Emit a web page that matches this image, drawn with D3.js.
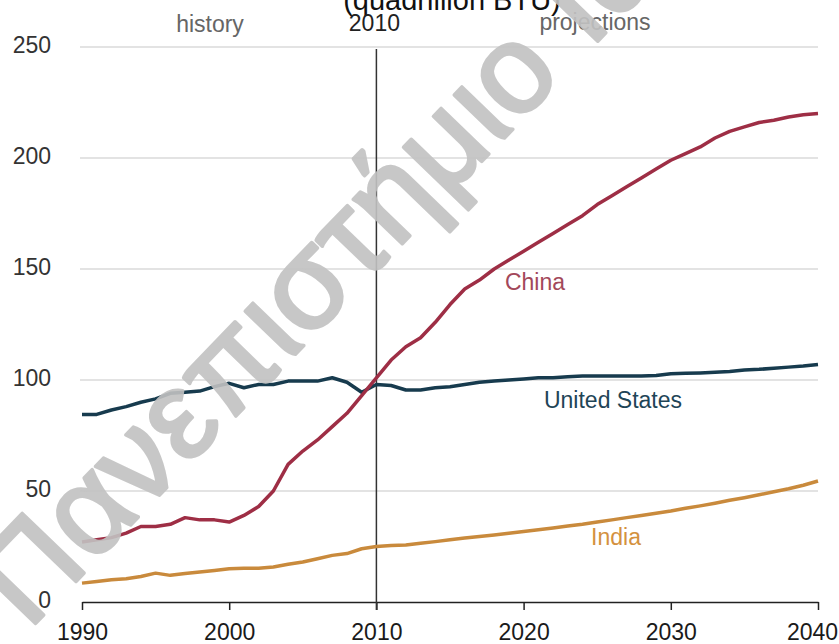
<!DOCTYPE html>
<html>
<head>
<meta charset="utf-8" />
<title>China, United States and India energy consumption</title>
<style>
  body { margin: 0; background: #fff; }
  svg { display: block; font-family: "Liberation Sans", Arial, sans-serif; }
</style>
</head>
<body>
<div id="chart"></div>
<script src="https://cdn.jsdelivr.net/npm/d3@7"></script>
<script>
// years 1990..2040
var years = d3.range(1990, 2041);

var china = [27, 28, 29, 31, 34, 34, 35, 38, 37, 37, 36, 39, 43, 50, 62, 68, 73, 79, 85, 93, 101,
  109, 115, 119, 126, 134, 141, 145, 150, 154, 158,
  162, 166, 170, 174, 179, 183, 187, 191, 195, 199,
  202, 205, 209, 212, 214, 216, 217, 218.5, 219.5, 220];

var unitedStates = [84.5, 84.5, 86.5, 88, 90, 91.5, 94, 94.5, 95, 97, 98.5, 96.5, 98, 98, 99.5, 99.5, 99.5, 101, 99, 94.5, 98,
  97.5, 95.5, 95.5, 96.5, 97, 98, 99, 99.5, 100, 100.5,
  101, 101, 101.5, 101.8, 101.8, 101.8, 101.8, 101.8, 102, 102.8,
  103, 103.2, 103.5, 103.8, 104.5, 104.8, 105.3, 105.8, 106.3, 107];

var india = [8.5, 9.2, 10, 10.5, 11.5, 13, 12, 12.8, 13.5, 14.2, 15, 15.2, 15.2, 15.8, 17, 18, 19.5, 21, 21.8, 24, 25,
  25.5, 25.7, 26.5, 27.2, 28, 28.8, 29.5, 30.2, 31, 31.8,
  32.5, 33.3, 34.2, 35, 36, 37, 38, 39, 40, 41,
  42.2, 43.3, 44.5, 45.8, 47, 48.3, 49.7, 51, 52.6, 54.5];

var xTicks = [1990, 2000, 2010, 2020, 2030, 2040];
var yTicks = [0, 50, 100, 150, 200, 250];

var width = 839, height = 644;

var x = d3.scaleLinear().domain([1990, 2040]).range([82, 818]);
var y = d3.scaleLinear().domain([0, 250]).range([602, 47]);

var svg = d3.select("#chart").append("svg")
    .attr("width", width)
    .attr("height", height);

// title, cut at the top edge
svg.append("text")
    .attr("x", 452).attr("y", 10)
    .attr("text-anchor", "middle")
    .style("font-size", "29px")
    .style("fill", "#111")
    .text("(quadrillion BTU)");

// grid
svg.append("g")
    .selectAll("line")
    .data(yTicks.filter(function (d) { return d > 0; }))
    .enter().append("line")
    .attr("x1", 80).attr("x2", 818)
    .attr("y1", function (d) { return y(d); })
    .attr("y2", function (d) { return y(d); })
    .attr("stroke", "#dadada")
    .attr("stroke-width", 1.5);

// y labels
svg.append("g")
    .selectAll("text")
    .data(yTicks)
    .enter().append("text")
    .attr("x", 51)
    .attr("y", function (d) { return y(d) - 2; })
    .attr("dy", "0.35em")
    .attr("text-anchor", "end")
    .style("font-size", "23px")
    .style("fill", "#333")
    .text(function (d) { return d; });

// x axis
var xAxis = d3.axisBottom(x)
    .tickValues(xTicks)
    .tickFormat(d3.format("d"))
    .tickSize(8)
    .tickSizeOuter(0);

var gx = svg.append("g")
    .attr("transform", "translate(0," + y(0) + ")")
    .call(xAxis);
gx.select(".domain").attr("stroke", "#222").attr("stroke-width", 1.5);
gx.selectAll(".tick line").attr("stroke", "#222").attr("stroke-width", 1.5);
gx.selectAll(".tick text")
    .attr("y", 22)
    .attr("x", function (d) { return d === 2040 ? -6 : 0; })
    .style("font-size", "23px")
    .style("font-family", "\"Liberation Sans\", Arial, sans-serif")
    .style("fill", "#1a1a1a");

// 2010 divider
svg.append("line")
    .attr("x1", x(2010)).attr("x2", x(2010))
    .attr("y1", 49).attr("y2", 610)
    .attr("stroke", "#333")
    .attr("stroke-width", 1.5);

// header labels
svg.append("text").attr("x", 210).attr("y", 32).attr("text-anchor", "middle")
    .style("font-size", "23px").style("fill", "#666").text("history");
svg.append("text").attr("x", x(2010) - 2).attr("y", 31).attr("text-anchor", "middle")
    .style("font-size", "23px").style("fill", "#222").text("2010");
svg.append("text").attr("x", 595).attr("y", 30).attr("text-anchor", "middle")
    .style("font-size", "23px").style("fill", "#666").text("projections");

var line = d3.line()
    .x(function (d, i) { return x(years[i]); })
    .y(function (d) { return y(d); });

var series = [
  { name: "India", values: india, color: "#c98a3c" },
  { name: "United States", values: unitedStates, color: "#173b4e" },
  { name: "China", values: china, color: "#9e2e45" }
];

svg.append("g")
    .selectAll("path")
    .data(series)
    .enter().append("path")
    .attr("d", function (d) { return line(d.values); })
    .attr("fill", "none")
    .attr("stroke", function (d) { return d.color; })
    .attr("stroke-width", 3.5)
    .attr("stroke-linejoin", "round");

// series labels
svg.append("text").attr("x", 535).attr("y", 290).attr("text-anchor", "middle")
    .style("font-size", "23px").style("fill", "#a3485a").text("China");
svg.append("text").attr("x", 613).attr("y", 408).attr("text-anchor", "middle")
    .style("font-size", "23px").style("fill", "#1f4557").text("United States");
svg.append("text").attr("x", 616).attr("y", 545).attr("text-anchor", "middle")
    .style("font-size", "23px").style("fill", "#d4913e").text("India");

// watermark over the plot
var wm = svg.append("g")
    .attr("transform", "translate(516,126) rotate(-46)")
    .style("font-size", "125px")
    .style("letter-spacing", "1px")
    .style("fill", "#c2c2c2")
    .style("stroke", "#c2c2c2")
    .style("stroke-width", 3.5)
    .style("stroke-linejoin", "round")
    .style("opacity", 0.9);
wm.append("text").attr("text-anchor", "end").text("Πανεπιστήμι");
wm.append("text").attr("text-anchor", "start").text("ο Ιωαννίνων");
</script>
</body>
</html>
